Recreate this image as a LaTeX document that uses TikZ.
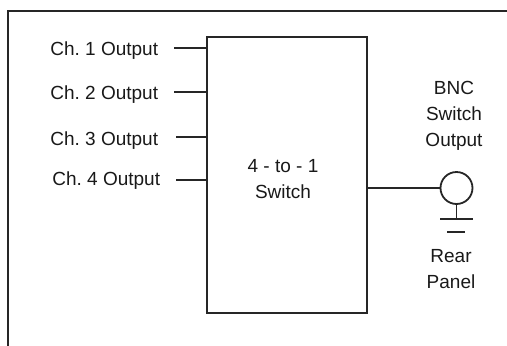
\documentclass[tikz,border=0pt]{standalone}
\usepackage{fontspec}
\setmainfont{Liberation Sans}
\frenchspacing
\begin{document}
\begin{tikzpicture}[x=1pt,y=-1pt,
  line width=1.8pt, draw=black!85,
  lbl/.style={font=\fontsize{19}{26}\selectfont, inner sep=0pt, text=black!90},
  swbox/.style={draw, minimum width=160pt, minimum height=276pt, inner sep=0pt},
  bncsym/.style={draw, circle, minimum size=32pt, inner sep=0pt}]
\useasboundingbox (0,0) rectangle (507,346);
% outer frame
\coordinate (fbl) at (8,346);
\coordinate (ftl) at (8,11);
\coordinate (ftr) at (507,11);
\draw (fbl) -- (ftl) -- (ftr);
% switch box
\node[swbox] (sw) at (287,175) {};
\node[lbl, align=center, anchor=base] (swt) at (283,198) {4 - to - 1\\Switch};
% inputs
\node[lbl, anchor=base east] (l1) at (159,55) {Ch. 1 Output};
\node[lbl, anchor=base east] (l2) at (159,99) {Ch. 2 Output};
\node[lbl, anchor=base east] (l3) at (159,145) {Ch. 3 Output};
\node[lbl, anchor=base east] (l4) at (161,185) {Ch. 4 Output};
\coordinate (c1) at (174,48);
\coordinate (c2) at (174,92);
\coordinate (c3) at (176,137);
\coordinate (c4) at (176,180);
\draw (c1) -- (c1 -| sw.west);
\draw (c2) -- (c2 -| sw.west);
\draw (c3) -- (c3 -| sw.west);
\draw (c4) -- (c4 -| sw.west);
% BNC output
\node[bncsym] (bnc) at (456.5,188) {};
\draw (sw.east |- bnc.west) -- (bnc.west);
\coordinate (g) at (456.5,219);
\draw (bnc.south) -- (g);
\coordinate (gl) at (440,219);
\coordinate (gr) at (473,219);
\draw (gl) -- (gr);
\coordinate (hl) at (447,232);
\coordinate (hr) at (465,232);
\draw (hl) -- (hr);
\node[lbl, align=center, anchor=base] (bnct) at (454,146) {BNC\\Switch\\Output};
\node[lbl, align=center, anchor=base] (rear) at (451,288) {Rear\\Panel};
\end{tikzpicture}
\end{document}
